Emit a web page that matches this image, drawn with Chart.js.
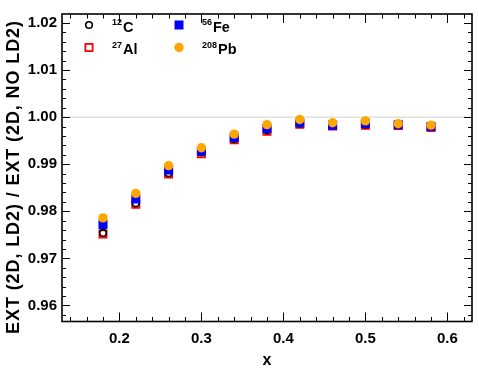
<!DOCTYPE html>
<html>
<head>
<meta charset="utf-8">
<script src="https://cdn.jsdelivr.net/npm/chart.js@4/dist/chart.umd.min.js"></script>
<style>
  html, body { margin: 0; padding: 0; background: #fff; }
  #wrap { width: 479px; height: 370px; }
</style>
</head>
<body>
<div id="wrap"><canvas id="chart1" width="479" height="370"></canvas></div>
<script>
// x bins
const xVals = [0.18, 0.22, 0.26, 0.30, 0.34, 0.38, 0.42, 0.46, 0.50, 0.54, 0.58];

// ratio per nucleus
const carbon    = [0.9754, 0.9817, 0.9881, 0.9925, 0.9953, 0.9972, 0.9986, 0.9982, 0.9984, 0.9983, 0.9979];
const aluminium = [0.9752, 0.9815, 0.9879, 0.9922, 0.9952, 0.9970, 0.9985, 0.9981, 0.9983, 0.9982, 0.9978];
const iron      = [0.9772, 0.9826, 0.9888, 0.9928, 0.9957, 0.9976, 0.9988, 0.9983, 0.9987, 0.9984, 0.9980];
const lead      = [0.9786, 0.9838, 0.9897, 0.9935, 0.9964, 0.9984, 0.9995, 0.9988, 0.9992, 0.9986, 0.9983];

// axis ticks
const xTickVals = [0.2, 0.3, 0.4, 0.5, 0.6];
const yTickVals = [0.96, 0.97, 0.98, 0.99, 1.00, 1.01, 1.02];

const FONT = '"Liberation Sans", Arial, Helvetica, sans-serif';

function pts(ys) {
  return xVals.map((x, i) => ({ x: x, y: ys[i] }));
}

// legend entries
const legendItems = [
  { sup: '12', name: 'C', kind: 'circleOpen', color: '#000', col: 0, row: 0 },
  { sup: '56', name: 'Fe', kind: 'square', color: '#0000ff', col: 1, row: 0 },
  { sup: '27', name: 'Al', kind: 'squareOpen', color: '#ff0000', col: 0, row: 1 },
  { sup: '208', name: 'Pb', kind: 'circle', color: '#ffa500', col: 1, row: 1 }
];

function drawMarker(ctx, kind, color, x, y) {
  ctx.save();
  if (kind === 'circleOpen') {
    ctx.strokeStyle = color; ctx.lineWidth = 1.6;
    ctx.beginPath(); ctx.arc(x, y, 3.3, 0, Math.PI * 2); ctx.stroke();
  } else if (kind === 'circle') {
    ctx.fillStyle = color;
    ctx.beginPath(); ctx.arc(x, y, 4.7, 0, Math.PI * 2); ctx.fill();
  } else if (kind === 'square') {
    ctx.fillStyle = color;
    ctx.fillRect(x - 4.5, y - 4.5, 9, 9);
  } else {
    ctx.strokeStyle = color; ctx.lineWidth = 1.8;
    ctx.strokeRect(x - 3.6, y - 3.6, 7.2, 7.2);
  }
  ctx.restore();
}

const framePlugin = {
  id: 'frame',
  beforeDatasetsDraw(chart) {
    const { ctx, chartArea: a, scales } = chart;
    // grey line at 1
    const y1 = scales.y.getPixelForValue(1.0);
    ctx.save();
    ctx.strokeStyle = '#d0d0d0';
    ctx.lineWidth = 1;
    ctx.beginPath(); ctx.moveTo(a.left, y1); ctx.lineTo(a.right, y1); ctx.stroke();
    ctx.restore();
  },
  afterDraw(chart) {
    const { ctx, chartArea: a, scales } = chart;
    ctx.save();
    ctx.strokeStyle = '#000';
    ctx.lineWidth = 1;
    // x ticks (bottom and top)
    for (let i = 7; i <= 31; i++) {
      const v = i * 0.02;
      const px = Math.round(scales.x.getPixelForValue(v)) + 0.5;
      const major = i % 5 === 0;
      const len = major ? 9 : 4.5;
      ctx.beginPath();
      ctx.moveTo(px, a.bottom); ctx.lineTo(px, a.bottom - len);
      ctx.moveTo(px, a.top); ctx.lineTo(px, a.top + len);
      ctx.stroke();
    }
    // y ticks (left and right)
    for (let i = 479; i <= 510; i++) {
      const v = i * 0.002;
      const py = Math.round(scales.y.getPixelForValue(v)) + 0.5;
      const major = i % 5 === 0;
      const len = major ? 8 : 4;
      ctx.beginPath();
      ctx.moveTo(a.left, py); ctx.lineTo(a.left + len, py);
      ctx.moveTo(a.right, py); ctx.lineTo(a.right - len, py);
      ctx.stroke();
    }
    // frame
    ctx.lineWidth = 1.6;
    ctx.strokeRect(a.left, a.top, a.right - a.left, a.bottom - a.top);

    // y title
    ctx.fillStyle = '#000';
    ctx.font = 'bold 18px ' + FONT;
    ctx.letterSpacing = '0.9px';
    ctx.textAlign = 'center';
    ctx.textBaseline = 'alphabetic';
    ctx.translate(18.5, 177);
    ctx.rotate(-Math.PI / 2);
    ctx.fillText('EXT (2D, LD2) / EXT (2D, NO LD2)', 0, 0);
    ctx.restore();

    // legend
    ctx.save();
    ctx.fillStyle = '#000';
    ctx.textBaseline = 'alphabetic';
    ctx.textAlign = 'left';
    legendItems.forEach(it => {
      const mx = it.col === 0 ? 89 : 179;
      const my = it.row === 0 ? 25 : 47.5;
      drawMarker(ctx, it.kind, it.color, mx, my);
      let tx = mx + 23;
      ctx.font = 'bold 9px ' + FONT;
      ctx.fillText(it.sup, tx, my);
      tx += ctx.measureText(it.sup).width + 1;
      ctx.font = 'bold 14.5px ' + FONT;
      ctx.fillText(it.name, tx, my + 6.5);
    });
    ctx.restore();
  }
};

const ctx = document.getElementById('chart1').getContext('2d');
const chart = new Chart(ctx, {
  type: 'scatter',
  data: {
    datasets: [
      { label: '208Pb', data: pts(lead), order: 0, pointStyle: 'circle', pointRadius: 4.7,
        backgroundColor: '#ffa500', borderColor: '#ffa500', borderWidth: 0 },
      { label: '56Fe', data: pts(iron), order: 1, pointStyle: 'rect', pointRadius: 6.4,
        backgroundColor: '#0000ff', borderColor: '#0000ff', borderWidth: 0 },
      { label: '12C', data: pts(carbon), order: 2, pointStyle: 'circle', pointRadius: 3.3,
        backgroundColor: 'rgba(0,0,0,0)', borderColor: '#000', borderWidth: 1.6 },
      { label: '27Al', data: pts(aluminium), order: 3, pointStyle: 'rect', pointRadius: 5.1,
        backgroundColor: 'rgba(0,0,0,0)', borderColor: '#ff0000', borderWidth: 1.8 }
    ]
  },
  options: {
    responsive: false,
    animation: false,
    events: [],
    layout: { padding: { left: 0, right: 7, top: 6, bottom: 0 } },
    plugins: { legend: { display: false }, tooltip: { enabled: false } },
    scales: {
      x: {
        type: 'linear',
        min: 0.13,
        max: 0.63,
        afterBuildTicks: (s) => { s.ticks = xTickVals.map(v => ({ value: v })); },
        afterFit: (s) => { s.height = 48.5; },
        grid: { display: false, drawTicks: false },
        border: { display: false },
        ticks: {
          color: '#000', padding: 8,
          font: { family: FONT, size: 15, weight: 'bold' },
          callback: (v) => v.toFixed(1)
        },
        title: {
          display: true, text: 'x', color: '#000', padding: { top: 0, bottom: 0 },
          font: { family: FONT, size: 16, weight: 'bold' }
        }
      },
      y: {
        type: 'linear',
        min: 0.9566,
        max: 1.0219,
        afterBuildTicks: (s) => { s.ticks = yTickVals.map(v => ({ value: v })); },
        afterFit: (s) => { s.width = 62; },
        grid: { display: false, drawTicks: false },
        border: { display: false },
        ticks: {
          color: '#000', padding: 5,
          font: { family: FONT, size: 15, weight: 'bold' },
          callback: (v) => v.toFixed(2)
        }
      }
    }
  },
  plugins: [framePlugin]
});
</script>
</body>
</html>
